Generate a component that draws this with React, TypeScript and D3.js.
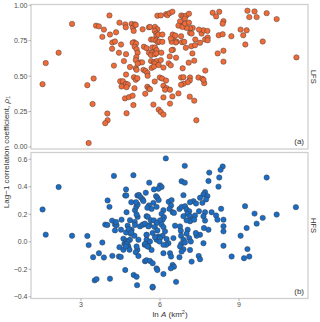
import * as d3 from 'd3';

// LFS panel (a): ln A and lag-1 correlation
const lfsLnA = [
  1.54, 1.66, 2.15, 2.66, 3.24, 3.29, 3.48, 3.44, 3.57, 3.68, 3.81, 3.87, 4.00, 4.01, 3.92, 4.08, 4.10, 4.18, 4.19, 4.29,
  4.33, 4.25, 4.44, 4.46, 4.49, 4.59, 4.54, 4.52, 4.68, 4.70, 4.63, 4.71, 4.71, 4.78, 4.73, 4.67, 4.82, 4.96, 4.73, 4.71,
  4.86, 4.92, 4.97, 5.00, 5.04, 5.08, 5.01, 4.96, 5.09, 5.04, 5.11, 5.15, 5.10, 5.08, 5.01, 5.08, 5.14, 5.03, 4.99, 5.08,
  5.11, 5.24, 5.32, 5.15, 5.34, 5.39, 5.49, 5.58, 5.44, 5.52, 5.57, 5.37, 5.45, 5.52, 5.53, 5.58,
  5.90, 6.03, 6.23, 6.28, 6.36, 6.47, 6.81, 6.89, 6.99, 7.10, 6.94, 5.62, 5.81, 5.90, 5.80, 5.86, 5.87, 5.94, 6.09, 5.66,
  5.75, 5.85, 5.92, 5.98, 6.09, 5.71, 5.81, 5.87, 5.70, 5.66, 5.80, 5.86, 6.05, 5.66, 5.77, 5.87, 6.03, 5.80, 5.68, 5.77,
  5.95, 6.13, 6.33, 6.41, 6.61, 6.37, 6.49, 6.44, 6.63, 6.60, 6.44, 6.51, 6.48, 6.58, 6.41, 6.80, 6.84, 6.92, 6.98, 7.19,
  7.33, 7.34, 7.52, 7.71, 7.58, 7.65, 7.80, 7.81, 7.81, 7.48, 7.24, 7.14, 7.01, 6.89, 6.76, 6.70, 6.85, 6.95, 7.10, 7.14,
  7.20, 7.23, 7.09, 7.30, 6.86, 7.72, 6.80, 6.89, 7.14, 7.13, 7.05, 6.89, 6.80, 6.70, 7.13, 7.30, 7.46, 7.61, 7.68, 7.65,
  5.99, 6.08, 6.23, 6.13, 6.25, 6.19, 6.13, 6.38, 6.47, 6.38, 5.80, 5.62, 5.95, 6.03, 6.13, 5.75, 7.38,
  8.00, 8.25, 8.13, 8.41, 8.38, 8.23, 8.38, 8.71, 9.06, 9.29, 9.16, 9.24, 9.32, 9.59, 9.39, 9.67, 10.05, 10.43, 9.90, 8.41,
  8.19, 8.41, 11.18,
];
const lfsRho = [
  0.443, 0.592, 0.665, 0.868, 0.436, 0.028, 0.483, 0.303, 0.856, 0.851, 0.777, 0.828, 0.236, 0.189, 0.168, 0.928, 0.793, 0.693, 0.737, 0.744,
  0.809, 0.574, 0.665, 0.877, 0.464, 0.464, 0.427, 0.723, 0.865, 0.844, 0.606, 0.511, 0.446, 0.441, 0.422, 0.343, 0.352, 0.362, 0.238, 0.655,
  0.564, 0.868, 0.842, 0.819, 0.865, 0.861, 0.739, 0.735, 0.730, 0.707, 0.690, 0.665, 0.634, 0.613, 0.492, 0.474, 0.485, 0.415, 0.296, 0.555,
  0.544, 0.597, 0.597, 0.588, 0.830, 0.707, 0.697, 0.665, 0.376, 0.425, 0.413, 0.544, 0.536, 0.522, 0.502, 0.844,
  0.926, 0.928, 0.937, 0.930, 0.944, 0.954, 0.928, 0.921, 0.926, 0.940, 0.905, 0.847, 0.847, 0.830, 0.819, 0.800, 0.784, 0.793, 0.793, 0.758,
  0.758, 0.751, 0.739, 0.744, 0.742, 0.702, 0.702, 0.683, 0.665, 0.648, 0.653, 0.660, 0.665, 0.606, 0.599, 0.606, 0.613, 0.588, 0.558, 0.567,
  0.578, 0.560, 0.590, 0.576, 0.630, 0.639, 0.686, 0.683, 0.744, 0.737, 0.742, 0.777, 0.793, 0.786, 0.765, 0.781, 0.739, 0.742, 0.700, 0.711,
  0.718, 0.758, 0.735, 0.758, 0.800, 0.823, 0.819, 0.772, 0.753, 0.828, 0.840, 0.837, 0.840, 0.865, 0.886, 0.856, 0.847, 0.870, 0.877, 0.805,
  0.800, 0.660, 0.595, 0.609, 0.555, 0.539, 0.490, 0.492, 0.490, 0.469, 0.457, 0.446, 0.439, 0.378, 0.355, 0.327, 0.490, 0.481, 0.450, 0.474,
  0.490, 0.483, 0.469, 0.432, 0.415, 0.404, 0.350, 0.404, 0.357, 0.306, 0.462, 0.408, 0.264, 0.247, 0.229, 0.299, 0.189,
  0.947, 0.954, 0.921, 0.888, 0.870, 0.788, 0.795, 0.781, 0.828, 0.823, 0.788, 0.723, 0.961, 0.956, 0.916, 0.916, 0.944, 0.902, 0.744, 0.679,
  0.660, 0.602, 0.632,
];

// HFS panel (b)
const hfsLnA = [
  1.54, 1.66, 2.15, 2.66, 3.24, 3.29, 3.46, 3.52, 3.59, 3.68, 3.81, 3.87, 4.01, 4.08, 4.10, 4.19, 4.18, 4.25, 4.29, 4.35,
  4.29, 4.33, 4.44, 4.51, 4.46, 4.52, 4.54, 4.61, 4.65, 4.61, 4.68, 4.71, 4.68, 4.72, 4.73, 4.77, 4.73, 4.80, 4.84, 4.86,
  4.89, 4.91, 4.99, 4.92, 5.03, 5.04, 5.05, 5.00, 5.11, 5.13, 5.05, 5.10, 5.15, 5.09, 5.14, 5.20, 5.15, 5.11, 5.18, 5.14,
  5.27, 5.34, 5.37, 5.37, 5.49, 5.46, 5.59, 5.43, 5.49, 5.54, 5.49, 5.42, 5.49, 5.56, 5.49, 5.58, 5.52, 5.61, 5.72, 5.65,
  4.86, 4.77, 4.73, 4.70, 5.11, 5.08, 5.18, 5.24, 5.34, 5.43, 5.56, 5.49, 5.43, 5.53, 4.71, 4.81, 4.91, 3.92, 4.00,
  6.22, 6.94, 6.82, 6.94, 7.84, 7.71, 7.65, 7.80, 7.75, 7.61, 7.52, 7.27, 7.14, 7.37, 6.89, 6.00, 6.06, 5.94, 5.77, 5.85,
  5.90, 5.95, 5.75, 5.87, 5.68, 6.33, 6.44, 6.42, 6.36, 6.48, 6.53, 6.13, 6.06, 6.15, 6.10, 6.00, 6.74, 6.82, 6.95, 7.01,
  7.11, 7.04, 7.14, 7.20, 7.14, 7.01, 6.89, 7.71, 7.65, 7.71, 7.67, 7.84, 7.48, 7.33, 7.30, 7.52, 7.39, 7.36, 7.65, 5.77,
  5.87, 5.80, 5.90, 5.94, 5.87, 5.81, 5.72, 6.06, 6.13, 6.19, 6.10, 6.00, 5.98, 6.25, 6.32, 6.23, 6.13, 6.51, 6.57, 6.76,
  6.79, 6.80, 6.89, 6.81, 6.76, 7.05, 7.01, 7.11, 7.17, 6.95, 6.89, 5.62, 5.68, 6.13, 6.38, 6.42, 6.48, 6.53, 6.41, 6.74,
  6.82, 7.14, 7.20, 7.47, 7.52, 5.87, 5.90, 6.13, 6.61, 5.72, 5.62, 5.72,
  7.87, 8.38, 8.30, 8.25, 8.22, 7.96, 8.13, 8.18, 8.41, 8.41, 8.41, 8.41, 8.32, 8.72, 9.06, 9.29, 9.23, 9.59, 9.67, 9.90,
  10.43, 11.16, 10.05, 9.19, 9.32, 9.39,
];
const hfsRho = [
  0.235, 0.052, 0.398, 0.044, 0.042, -0.024, -0.112, -0.280, -0.271, -0.083, -0.005, -0.114, 0.301, 0.254, -0.268, -0.102, 0.154, 0.479, 0.125, 0.120,
  0.083, 0.144, -0.107, -0.110, -0.039, 0.088, 0.161, 0.022, -0.014, -0.058, -0.205, 0.381, 0.337, 0.337, 0.215, 0.117, 0.008, -0.034, -0.058, 0.157,
  0.059, 0.288, 0.484, 0.088, 0.044, 0.144, 0.122, -0.241, -0.254, -0.315, 0.230, 0.254, 0.271, 0.288, 0.337, 0.340, 0.181, 0.198, 0.015, -0.058,
  0.323, 0.308, 0.296, 0.125, 0.186, 0.357, 0.430, -0.141, -0.134, 0.181, 0.049, -0.022, -0.014, -0.034, 0.015, 0.264, 0.247, 0.120, -0.332, 0.157,
  0.015, -0.002, -0.017, -0.034, -0.034, -0.076, -0.103, 0.112, 0.125, 0.132, 0.112, 0.051, -0.015, -0.034, 0.068, 0.093, 0.068, 0.125, 0.122,
  0.606, 0.552, 0.440, 0.430, 0.442, 0.361, 0.344, 0.332, 0.308, 0.283, 0.320, 0.295, 0.288, 0.278, 0.339, 0.410, 0.398, 0.386, 0.381, 0.332,
  0.320, 0.303, 0.283, 0.254, 0.239, 0.291, 0.303, 0.264, 0.239, 0.215, 0.210, 0.230, 0.203, 0.178, 0.161, 0.156, 0.239, 0.254, 0.259, 0.235,
  0.222, 0.203, 0.186, 0.161, 0.149, 0.156, 0.186, 0.215, 0.186, 0.154, 0.100, 0.088, 0.222, 0.191, 0.161, 0.051, 0.044, 0.064, -0.010, 0.156,
  0.137, 0.107, 0.083, 0.039, 0.015, 0.034, 0.064, 0.125, 0.107, 0.076, 0.044, 0.027, 0.002, 0.020, -0.010, -0.022, -0.022, 0.027, 0.117, 0.112,
  0.081, 0.044, 0.015, -0.015, -0.034, 0.088, 0.059, 0.027, 0.002, -0.005, -0.054, 0.002, -0.059, -0.083, -0.083, -0.107, -0.168, -0.181, -0.193, -0.112,
  -0.071, -0.059, -0.144, -0.103, -0.127, -0.193, -0.205, -0.234, -0.291, -0.327, -0.139, -0.156,
  0.503, 0.547, 0.523, 0.467, 0.401, 0.215, 0.191, 0.161, 0.161, 0.113, 0.076, -0.029, 0.240, -0.107, 0.044, 0.100, 0.259, 0.205, 0.132, 0.174,
  0.198, 0.252, 0.467, -0.119, -0.053, -0.107,
];

const xTicks = [3, 6, 9];
const lfsTicks = [0, 0.25, 0.5, 0.75, 1];
const hfsTicks = [-0.4, -0.2, 0, 0.2, 0.4, 0.6];

const font = "'Liberation Sans', Arial, sans-serif";

export default function App() {
  // layout
  const width = 320;
  const height = 322;
  const left = 31;
  const right = 308;

  const x = d3.scaleLinear().domain([1.101, 11.62]).range([left, right]);

  const panels = [
    {
      name: 'LFS', tag: '(a)', top: 4.5, bottom: 149,
      domain: [-0.014, 1.005], ticks: lfsTicks, fmt: d3.format('.2f'),
      xs: lfsLnA, ys: lfsRho, fill: '#f06b38',
    },
    {
      name: 'HFS', tag: '(b)', top: 152.5, bottom: 298.5,
      domain: [-0.412, 0.649], ticks: hfsTicks, fmt: d3.format('.1f'),
      xs: hfsLnA, ys: hfsRho, fill: '#1b6cc4',
    },
  ];

  return (
    <svg width={width} height={height} style={{ position: 'absolute', left: 0, top: 0 }} fontFamily={font}>
      <rect width={width} height={height} fill="#fff" />
      {panels.map((p) => {
        const y = d3.scaleLinear().domain(p.domain).range([p.bottom, p.top]);
        const mid = (p.top + p.bottom) / 2;
        return (
          <g key={p.name}>
            {/* points */}
            {p.xs.map((v, i) => (
              <circle key={i} cx={x(v)} cy={y(p.ys[i])} r={2.7}
                fill={p.fill} stroke="#3a3a3a" strokeWidth={0.45} />
            ))}
            {/* panel border */}
            <rect x={left} y={p.top} width={right - left} height={p.bottom - p.top}
              fill="none" stroke="#cfcfcf" strokeWidth={1.3} />
            {/* y axis */}
            {p.ticks.map((t) => (
              <g key={t} transform={`translate(0,${y(t)})`}>
                <line x1={left - 2.5} x2={left} stroke="#8a8a8a" strokeWidth={0.6} />
                <text x={left - 3.5} dy="0.35em" textAnchor="end" fontSize={7} fill="#4d4d4d">{p.fmt(t)}</text>
              </g>
            ))}
            {/* strip label */}
            <text transform={`translate(314,${mid}) rotate(90)`} textAnchor="middle" dy="0.35em"
              fontSize={7.5} fill="#333">{p.name}</text>
            {/* panel tag */}
            <text x={right - 4} y={p.bottom - 5} textAnchor="end" fontSize={8} fill="#333">{p.tag}</text>
          </g>
        );
      })}
      {/* x axis */}
      {xTicks.map((t) => (
        <g key={t} transform={`translate(${x(t)},298.5)`}>
          <line y1={0} y2={2.5} stroke="#8a8a8a" strokeWidth={0.6} />
          <text y={8.5} textAnchor="middle" fontSize={7} fill="#4d4d4d">{t}</text>
        </g>
      ))}
      <text x={170} y={317} textAnchor="middle" fontSize={8} fill="#333">
        ln <tspan fontStyle="italic">A</tspan> (km<tspan dy={-3} fontSize={5.5}>2</tspan><tspan dy={3}>)</tspan>
      </text>
      <text transform="translate(6,152) rotate(-90)" textAnchor="middle" dy="0.35em" fontSize={8} fill="#333">
        Lag−1 correlation coefficient, <tspan fontStyle="italic">ρ</tspan><tspan dy={1.5} fontSize={5.5}>1</tspan>
      </text>
    </svg>
  );
}
